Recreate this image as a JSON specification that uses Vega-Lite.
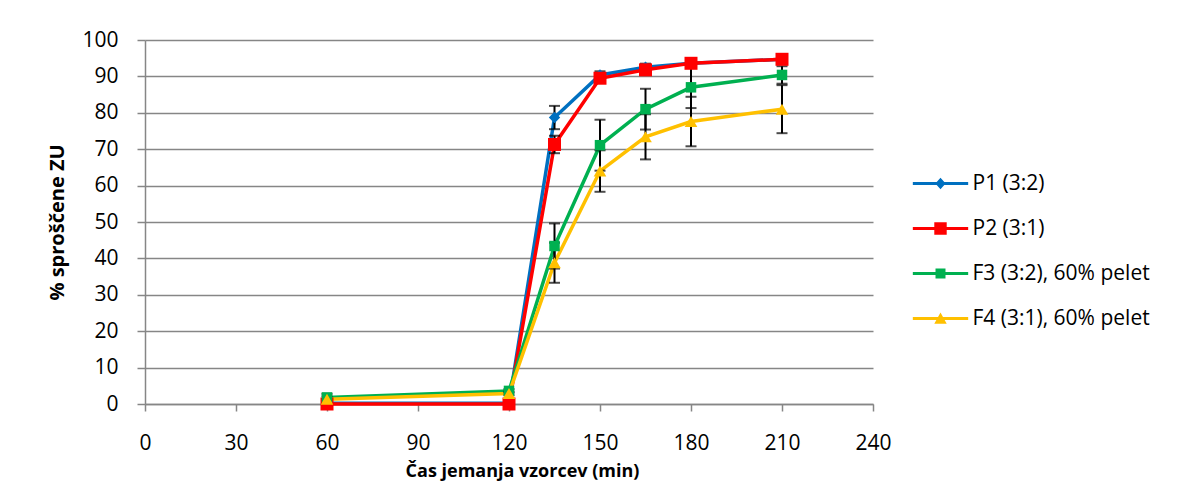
{
  "$schema": "https://vega.github.io/schema/vega-lite/v6.json",
  "width": 728,
  "height": 364,
  "autosize": {"type": "none"},
  "padding": {"left": 145, "top": 40, "right": 304, "bottom": 94},
  "background": "white",
  "config": {
    "font": "Open Sans",
    "view": {"stroke": null},
    "axis": {
      "domainColor": "#868686",
      "tickColor": "#868686",
      "domainWidth": 1.5,
      "tickWidth": 1.5,
      "labelColor": "black",
      "titleColor": "black",
      "labelFontSize": 21,
      "labelFlush": false,
      "titleFontWeight": "bold"
    },
    "legend": {
      "orient": "none",
      "legendX": 782,
      "legendY": 130,
      "title": null,
      "symbolSize": 729,
      "symbolOpacity": 1,
      "symbolStrokeWidth": 0,
      "labelFontSize": 21,
      "labelColor": "black",
      "labelOffset": 18.5,
      "rowPadding": 21,
      "labelLimit": 300
    }
  },
  "data": {
    "values": [
      {"t": 60, "series": "P1 (3:2)", "y": 0.2, "err": 0.3},
      {"t": 120, "series": "P1 (3:2)", "y": 0.2, "err": 0.3},
      {"t": 135, "series": "P1 (3:2)", "y": 78.7, "err": 3.2},
      {"t": 150, "series": "P1 (3:2)", "y": 90.4, "err": 1.0},
      {"t": 165, "series": "P1 (3:2)", "y": 92.5, "err": 1.0},
      {"t": 180, "series": "P1 (3:2)", "y": 93.6, "err": 1.0},
      {"t": 210, "series": "P1 (3:2)", "y": 94.7, "err": 1.0},
      {"t": 60, "series": "P2 (3:1)", "y": 0.0, "err": 0.3},
      {"t": 120, "series": "P2 (3:1)", "y": 0.0, "err": 0.3},
      {"t": 135, "series": "P2 (3:1)", "y": 71.3, "err": 2.4},
      {"t": 150, "series": "P2 (3:1)", "y": 89.5, "err": 1.0},
      {"t": 165, "series": "P2 (3:1)", "y": 91.8, "err": 1.0},
      {"t": 180, "series": "P2 (3:1)", "y": 93.6, "err": 1.0},
      {"t": 210, "series": "P2 (3:1)", "y": 94.7, "err": 1.0},
      {"t": 60, "series": "F3 (3:2), 60% pelet", "y": 1.8, "err": 1.0},
      {"t": 120, "series": "F3 (3:2), 60% pelet", "y": 3.6, "err": 0.5},
      {"t": 135, "series": "F3 (3:2), 60% pelet", "y": 43.4, "err": 6.2},
      {"t": 150, "series": "F3 (3:2), 60% pelet", "y": 71.1, "err": 7.0},
      {"t": 165, "series": "F3 (3:2), 60% pelet", "y": 81.0, "err": 5.6},
      {"t": 180, "series": "F3 (3:2), 60% pelet", "y": 87.0, "err": 5.7},
      {"t": 210, "series": "F3 (3:2), 60% pelet", "y": 90.4, "err": 2.4},
      {"t": 60, "series": "F4 (3:1), 60% pelet", "y": 1.3, "err": 0.8},
      {"t": 120, "series": "F4 (3:1), 60% pelet", "y": 2.9, "err": 0.5},
      {"t": 135, "series": "F4 (3:1), 60% pelet", "y": 38.8, "err": 5.5},
      {"t": 150, "series": "F4 (3:1), 60% pelet", "y": 64.0, "err": 5.7},
      {"t": 165, "series": "F4 (3:1), 60% pelet", "y": 73.4, "err": 6.2},
      {"t": 180, "series": "F4 (3:1), 60% pelet", "y": 77.6, "err": 6.8},
      {"t": 210, "series": "F4 (3:1), 60% pelet", "y": 81.0, "err": 6.6}
    ]
  },
  "encoding": {
    "x": {
      "field": "t",
      "type": "quantitative",
      "scale": {"domain": [0, 240], "nice": false},
      "axis": {
        "values": [0, 30, 60, 90, 120, 150, 180, 210, 240],
        "title": "Čas jemanja vzorcev (min)",
        "titleFontSize": 18,
        "titleX": 377,
        "grid": false,
        "tickSize": 7,
        "labelPadding": 21,
        "titlePadding": 9
      }
    },
    "y": {
      "field": "y",
      "type": "quantitative",
      "scale": {"domain": [0, 100], "nice": false},
      "axis": {
        "values": [0, 10, 20, 30, 40, 50, 60, 70, 80, 90, 100],
        "title": "% sproščene ZU",
        "titleFontSize": 20,
        "grid": true,
        "gridColor": "#868686",
        "gridWidth": 1.5,
        "tickSize": 8,
        "labelPadding": 19,
        "titlePadding": 14
      }
    }
  },
  "layer": [
    {
      "mark": {"type": "line", "strokeWidth": 3.5},
      "encoding": {
        "color": {
          "field": "series",
          "type": "nominal",
          "scale": {
            "domain": ["P1 (3:2)", "P2 (3:1)", "F3 (3:2), 60% pelet", "F4 (3:1), 60% pelet"],
            "range": ["#0070C0", "#FF0000", "#00B050", "#FFC000"]
          }
        }
      }
    },
    {
      "mark": {"type": "errorbar", "ticks": true, "color": "black", "size": 11, "thickness": 2},
      "encoding": {"yError": {"field": "err"}}
    },
    {
      "transform": [{"filter": {"field": "series", "equal": "P1 (3:2)"}}],
      "mark": {"type": "point", "shape": "diamond", "filled": true, "opacity": 1, "size": 130, "color": "#0070C0"}
    },
    {
      "transform": [{"filter": {"field": "series", "equal": "P2 (3:1)"}}],
      "mark": {"type": "point", "shape": "square", "filled": true, "opacity": 1, "size": 169, "color": "#FF0000"}
    },
    {
      "transform": [{"filter": {"field": "series", "equal": "F3 (3:2), 60% pelet"}}],
      "mark": {"type": "point", "shape": "square", "filled": true, "opacity": 1, "size": 110, "color": "#00B050"}
    },
    {
      "transform": [{"filter": {"field": "series", "equal": "F4 (3:1), 60% pelet"}}],
      "mark": {"type": "point", "shape": "triangle-up", "filled": true, "opacity": 1, "size": 160, "color": "#FFC000"}
    },
    {
      "transform": [{"filter": "false"}],
      "mark": {"type": "point", "filled": true, "opacity": 1},
      "encoding": {
        "fill": {
          "field": "series",
          "type": "nominal",
          "scale": {
            "domain": ["P1 (3:2)", "P2 (3:1)", "F3 (3:2), 60% pelet", "F4 (3:1), 60% pelet"],
            "range": ["#0070C0", "#FF0000", "#00B050", "#FFC000"]
          }
        },
        "shape": {
          "field": "series",
          "type": "nominal",
          "scale": {
            "domain": ["P1 (3:2)", "P2 (3:1)", "F3 (3:2), 60% pelet", "F4 (3:1), 60% pelet"],
            "range": [
              "M-2.05,-0.12L2.05,-0.12L2.05,0.12L-2.05,0.12Z M0,-0.42L0.38,0L0,0.42L-0.38,0Z",
              "M-2.05,-0.12L2.05,-0.12L2.05,0.12L-2.05,0.12Z M-0.46,-0.46L0.46,-0.46L0.46,0.46L-0.46,0.46Z",
              "M-2.05,-0.12L2.05,-0.12L2.05,0.12L-2.05,0.12Z M-0.37,-0.37L0.37,-0.37L0.37,0.37L-0.37,0.37Z",
              "M-2.05,-0.12L2.05,-0.12L2.05,0.12L-2.05,0.12Z M0,-0.44L0.46,0.38L-0.46,0.38Z"
            ]
          }
        }
      }
    }
  ]
}
